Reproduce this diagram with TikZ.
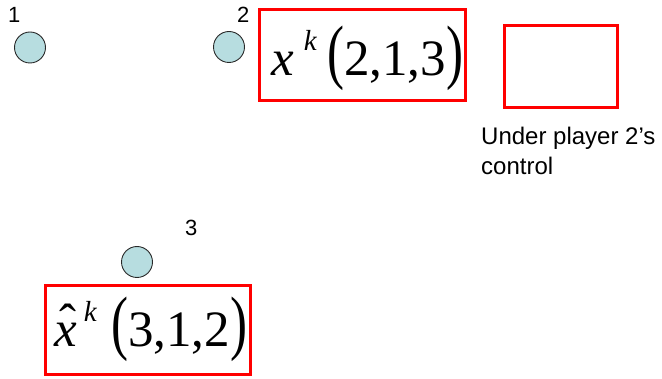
\documentclass[tikz,border=0pt]{standalone}
\usepackage{fontspec}
\setmainfont{Liberation Serif}
\newfontfamily\labfont{Liberation Sans}
\usepackage{graphicx}
\definecolor{nodeblue}{RGB}{183,221,224}
\definecolor{nodeedge}{RGB}{40,40,40}
\tikzset{
  player/.style={circle, draw=nodeedge, line width=0.9pt, fill=nodeblue, minimum size=31pt, inner sep=0pt},
  redbox/.style={draw=red, line width=3pt, inner sep=0pt},
  lab/.style={font=\labfont\fontsize{22}{26}\selectfont, inner sep=0pt, anchor=base west},
  mathtxt/.style={inner sep=0pt, anchor=base west},
}
\newcommand{\bigparen}[1]{\scalebox{1}[1.4]{#1}}
\newcommand{\hatx}{\makebox[0pt][l]{\hspace{5pt}\raisebox{7pt}{ˆ}}\textit{x}}
\begin{document}
\begin{tikzpicture}[x=1pt,y=-1pt]
\useasboundingbox (0,0) rectangle (662,379);
% players
\node[player] (c1) at (30,47.5) {};
\node[player] (c2) at (229,47) {};
\node[player] (c3) at (137,262) {};
\node[lab] (l1) at (8,23) {1};
\node[lab] (l2) at (237,23) {2};
\node[lab] (l3) at (185,236) {3};
% boxes
\node[redbox, minimum width=206pt, minimum height=91pt] (b1) at (362.5,55) {};
\node[redbox, minimum width=113pt, minimum height=82pt] (b2) at (561,66.5) {};
\node[redbox, minimum width=205pt, minimum height=89pt] (b3) at (148,330) {};
% texts
\node[mathtxt, font=\fontsize{51}{60}\selectfont] (t1) at (271,76)
  {\textit{x}\hspace{10pt}\raisebox{25pt}{\fontsize{29}{29}\selectfont\textit{k}}\hspace{10pt}\bigparen{(}2,1,3\bigparen{)}};
\node[mathtxt, font=\fontsize{51}{60}\selectfont] (t3) at (54,347)
  {\hatx\hspace{7pt}\raisebox{25pt}{\fontsize{29}{29}\selectfont\textit{k}}\hspace{14pt}\bigparen{(}3,1,2\bigparen{)}};
\node[font=\labfont\fontsize{24}{30}\selectfont, align=left, inner sep=0pt, anchor=base west] (u) at (481,175)
  {Under player 2’s\\control};
\end{tikzpicture}
\end{document}
